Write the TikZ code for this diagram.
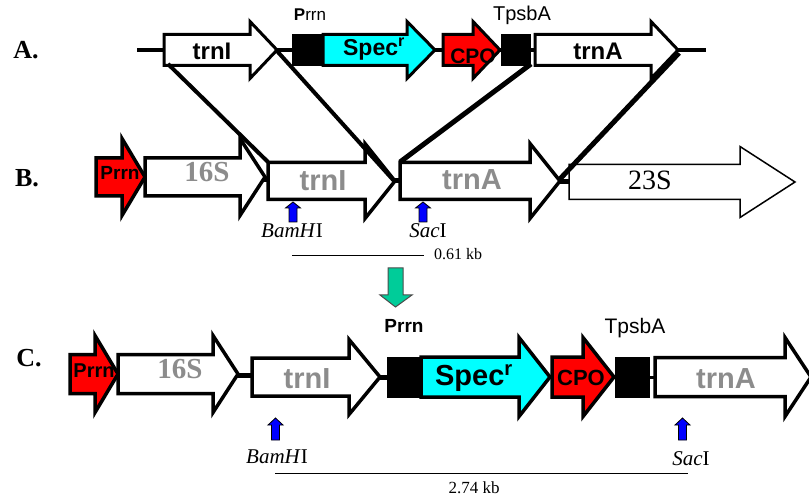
\documentclass[tikz,border=0pt]{standalone}
\usepackage{fontspec}
\setmainfont{Liberation Serif}
\setsansfont{Liberation Sans}
\definecolor{specc}{RGB}{0,255,255}
\definecolor{redc}{RGB}{255,0,0}
\definecolor{greyt}{RGB}{140,140,140}
\definecolor{greenc}{RGB}{0,204,153}
\definecolor{bluec}{RGB}{0,0,255}
\newcommand\genearrow[7]{%
  \draw[#1] (#2,#5-#6) -- (#3,#5-#6) -- (#3,#5-#7) -- (#4,#5) -- (#3,#5+#7) -- (#3,#5+#6) -- (#2,#5+#6) -- cycle;}
\newcommand\fs[1]{\fontsize{#1}{#1}\selectfont}
\tikzset{
  gene/.style={draw=black, line width=3.5pt, line join=miter, fill=white},
  geneA/.style={draw=black, line width=3pt, line join=miter, fill=white},
  sans/.style={font=\sffamily\bfseries, anchor=base, inner sep=0pt},
  gtxt/.style={font=\sffamily\bfseries, text=greyt, anchor=base, inner sep=0pt},
  plain/.style={font=\sffamily, anchor=base, inner sep=0pt},
  serif/.style={anchor=base, inner sep=0pt},
  rowlab/.style={font=\bfseries, anchor=center, inner sep=0pt},
  cross/.style={line width=4pt},
  crossb/.style={line width=5pt},
  site/.style={draw=black, line width=0.8pt, fill=bluec},
}
\begin{document}
\begin{tikzpicture}[x=1pt,y=-1pt]
\useasboundingbox (0,0) rectangle (809,497);
% ---------- Row A ----------
\node[rowlab, font=\bfseries\fs{26}] (labA) at (26,50) {A.};
\draw[line width=4pt] (137,50) -- (706,50);
\genearrow{geneA}{164}{250}{277}{50}{15.5}{28.5}
\draw[fill=black, line width=1pt] (292,34.5) rectangle (323,65.5);
\genearrow{geneA,fill=specc}{323}{407}{435}{50}{15.5}{28.5}
\genearrow{geneA,fill=redc}{443}{473}{500}{50}{15.5}{28.5}
\draw[fill=black, line width=1pt] (501,34.5) rectangle (530,65.5);
\genearrow{geneA}{535}{651}{678}{50}{15.5}{28.5}
\node[sans, font=\sffamily\bfseries\fs{24}] (AtrnI) at (212,60) {trnI};
\node[sans, font=\sffamily\bfseries\fs{23}] (Aspec) at (374,56) {Spec\textsuperscript{r}};
\node[sans, font=\sffamily\bfseries\fs{21}] (Acpo) at (473,64) {CPO};
\node[sans, font=\sffamily\bfseries\fs{24}] (AtrnA) at (598,60) {trnA};
\node[plain, font=\sffamily\fs{17}] (Aprrn) at (310,21) {\textbf{P}rrn};
\node[plain, font=\sffamily\fs{20}] (Atpsb) at (522,21) {TpsbA};
\coordinate (A1) at (168,64);
\coordinate (A2) at (277,51);
\coordinate (A3) at (531,64);
\coordinate (A4) at (679,53);
% ---------- Row B ----------
\node[rowlab, font=\bfseries\fs{26}] (labB) at (27,178) {B.};
\genearrow{gene,fill=redc}{96}{122}{145}{177}{19}{38.5}
\genearrow{gene}{145}{240}{265}{177}{19}{38.5}
\draw[line width=5pt] (264,180) -- (270,180);
\genearrow{gene}{268}{365}{395}{181}{18.5}{37.5}
\draw[line width=5pt] (394,181) -- (401,181);
\genearrow{gene}{400}{530}{560}{181}{18.5}{37.5}
\draw[line width=5pt] (559,182) -- (570,182);
\genearrow{draw=black,line width=1.5pt,fill=white}{569}{740}{795}{182}{17.5}{35.5}
\node[sans, font=\sffamily\bfseries\fs{19}] (Bprrn) at (120,180) {Prrn};
\node[serif, font=\bfseries\fs{29}, text=greyt] (B16) at (207,182) {16S};
\node[gtxt, font=\sffamily\bfseries\fs{29}] (BtrnI) at (323,191) {trnI};
\node[gtxt, font=\sffamily\bfseries\fs{29}] (BtrnA) at (472,190) {trnA};
\node[serif, font=\fs{28}] (B23) at (650,190) {23S};
\coordinate (B1) at (268,162);
\coordinate (B2) at (395,182);
\coordinate (B3) at (400,162);
\coordinate (B4) at (559,180);
\draw[cross] (A1) -- (B1);
\draw[cross] (A2) -- (B2);
\draw[crossb] (A3) -- (B3);
\draw[crossb] (A4) -- (B4);
% sites B
\draw[site] (289,222) -- (289,208) -- (285.5,208) -- (293,202) -- (300.5,208) -- (297,208) -- (297,222) -- cycle;
\draw[site] (419,222) -- (419,208) -- (415.5,208) -- (423,202) -- (430.5,208) -- (427,208) -- (427,222) -- cycle;
\node[serif, font=\fs{21}] (Bbam) at (292,238) {\textit{BamH}I};
\node[serif, font=\fs{21}] (Bsac) at (428,238) {\textit{Sac}I};
\coordinate (Bs1) at (292,256);
\coordinate (Bs2) at (424,256);
\draw[line width=1pt] (Bs1) -- (Bs2);
\node[serif, font=\fs{16}] (Bkb) at (458,260) {0.61 kb};
% green arrow
\draw[draw=black!70, line width=1pt, fill=greenc] (388,268) -- (403,268) -- (403,295) -- (412,295) -- (395.5,307) -- (380,295) -- (388,295) -- cycle;
% ---------- Row C ----------
\node[rowlab, font=\bfseries\fs{26}] (labC) at (29,358) {C.};
\genearrow{gene,fill=redc}{70}{95}{118}{374}{19.5}{38.5}
\genearrow{gene}{118}{213}{238}{374}{19.5}{38.5}
\draw[line width=5pt] (237,375) -- (254,375);
\genearrow{gene}{252}{349}{380}{377}{19}{37.5}
\draw[line width=5pt] (379,377) -- (388,377);
\draw[fill=black, line width=1pt] (387,357) rectangle (421,397);
\genearrow{gene,fill=specc}{421}{519}{550}{377}{20}{39.5}
\genearrow{gene,fill=redc}{552}{583}{614}{377}{20}{39.5}
\draw[fill=black, line width=1pt] (615,357) rectangle (649,397);
\draw[line width=3pt] (648,377) -- (656,377);
\genearrow{gene}{655}{785}{811}{377}{19.5}{39.5}
\node[sans, font=\sffamily\bfseries\fs{20}] (Cprrn) at (94,377) {Prrn};
\node[serif, font=\bfseries\fs{29}, text=greyt] (C16) at (180,378) {16S};
\node[gtxt, font=\sffamily\bfseries\fs{29}] (CtrnI) at (307,388) {trnI};
\node[sans, font=\sffamily\bfseries\fs{29}] (Cspec) at (474,385) {Spec\textsuperscript{r}};
\node[sans, font=\sffamily\bfseries\fs{22}] (Ccpo) at (581,385) {CPO};
\node[gtxt, font=\sffamily\bfseries\fs{29}] (CtrnA) at (726,388) {trnA};
\node[sans, font=\sffamily\bfseries\fs{19}] (Cprrnl) at (404,332) {Prrn};
\node[plain, font=\sffamily\fs{21}] (Ctpsb) at (635,333) {TpsbA};
\draw[site] (271.5,440) -- (271.5,425) -- (268,425) -- (275.5,418) -- (283,425) -- (279.5,425) -- (279.5,440) -- cycle;
\draw[site] (678.5,440) -- (678.5,425) -- (675,425) -- (682.5,418) -- (690,425) -- (686.5,425) -- (686.5,440) -- cycle;
\node[serif, font=\fs{21}] (Cbam) at (277,463) {\textit{BamH}I};
\node[serif, font=\fs{21}] (Csac) at (691,465) {\textit{Sac}I};
\coordinate (Cs1) at (275,473);
\coordinate (Cs2) at (688,473);
\draw[line width=1pt] (Cs1) -- (Cs2);
\node[serif, font=\fs{17}] (Ckb) at (474,493) {2.74 kb};
\end{tikzpicture}
\end{document}
